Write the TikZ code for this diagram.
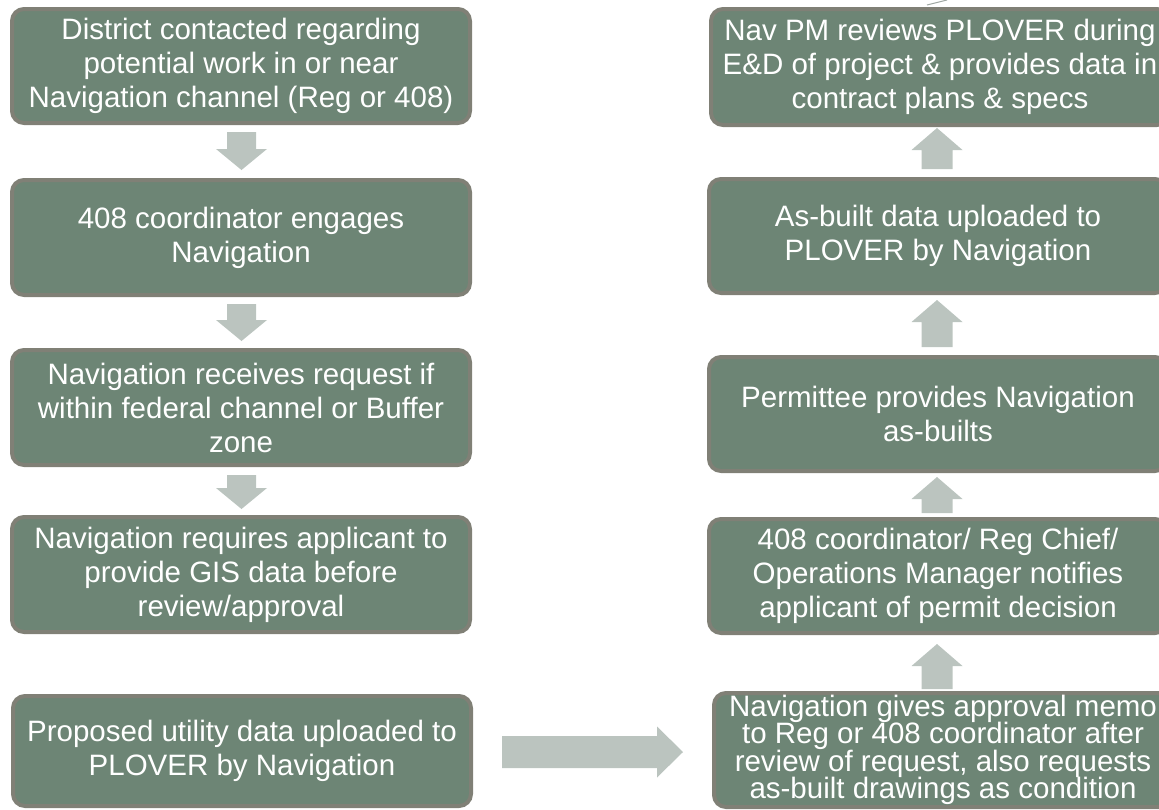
\documentclass[tikz,border=0pt]{standalone}
\usepackage{fontspec}
\setmainfont{Liberation Sans}
\usetikzlibrary{calc}
\definecolor{boxfill}{RGB}{109,133,117}
\definecolor{boxline}{RGB}{128,128,118}
\definecolor{arrowfill}{RGB}{187,196,191}
\definecolor{strayline}{RGB}{160,168,164}
\tikzset{
  flowbox/.style={draw=boxline, line width=4pt, fill=boxfill, rounded corners=12pt,
    minimum width=458pt, align=center, text=white, inner sep=0pt,
    font=\fontsize{29.5pt}{34pt}\selectfont},
  tightbox/.style={flowbox, font=\fontsize{29.5pt}{27.5pt}\selectfont},
  blockarrow/.style={fill=arrowfill}
}
\newcommand{\downblock}[2]{\fill[blockarrow] let \p1=(#1), \p2=(#2) in
  (\x1-14.5pt,\y1) -- (\x1+14.5pt,\y1) -- (\x1+14.5pt,\y2+21pt) -- (\x1+25.5pt,\y2+21pt)
  -- (\x1,\y2) -- (\x1-25.5pt,\y2+21pt) -- (\x1-14.5pt,\y2+21pt) -- cycle;}
\newcommand{\upblock}[2]{\fill[blockarrow] let \p1=(#1), \p2=(#2) in
  (\x1-15.5pt,\y1) -- (\x1+15.5pt,\y1) -- (\x1+15.5pt,\y2-22pt) -- (\x1+25.5pt,\y2-22pt)
  -- (\x1,\y2) -- (\x1-25.5pt,\y2-22pt) -- (\x1-15.5pt,\y2-22pt) -- cycle;}
\newcommand{\rightblock}[2]{\fill[blockarrow] let \p1=(#1), \p2=(#2) in
  (\x1,\y1+16pt) -- (\x2-26pt,\y1+16pt) -- (\x2-26pt,\y1+25.5pt) -- (\x2,\y1)
  -- (\x2-26pt,\y1-25.5pt) -- (\x2-26pt,\y1-16pt) -- (\x1,\y1-16pt) -- cycle;}
\begin{document}
\begin{tikzpicture}[x=1pt,y=-1pt]
\useasboundingbox (0,0) rectangle (1159,809);
\clip (0,0) rectangle (1159,809);
% left column
\node[flowbox, minimum height=114pt] (l1) at (241,66) {District contacted regarding\\potential work in or near\\Navigation channel (Reg or 408)};
\node[flowbox, minimum height=115pt] (l2) at (241,237.5) {408 coordinator engages\\Navigation};
\node[flowbox, minimum height=115pt] (l3) at (241,407.5) {Navigation receives request if\\within federal channel or Buffer\\zone};
\node[flowbox, minimum height=115pt] (l4) at (241,574.5) {Navigation requires applicant to\\provide GIS data before\\review/approval};
\node[flowbox, minimum height=110pt] (l5) at (242,751) {Proposed utility data uploaded to\\PLOVER by Navigation};
% right column
\node[flowbox, minimum height=116pt] (r1) at (940,67) {Nav PM reviews PLOVER during\\E\&D of project \& provides data in\\contract plans \& specs};
\node[flowbox, minimum height=114pt] (r2) at (938,236) {As-built data uploaded to\\PLOVER by Navigation};
\node[flowbox, minimum height=114pt] (r3) at (938,414) {Permittee provides Navigation\\as-builts};
\node[flowbox, minimum height=114pt] (r4) at (938,576) {408 coordinator/ Reg Chief/\\Operations Manager notifies\\applicant of permit decision};
\node[tightbox, minimum height=114pt] (r5) at (943,750) {Navigation gives approval memo\\to Reg or 408 coordinator after\\review of request, also requests\\as-built drawings as condition};
% left arrows
\downblock{$(l1.south)+(0.5,7)$}{$(l2.north)+(0.5,-8)$}
\downblock{$(l2.south)+(0.5,7)$}{$(l3.north)+(0.5,-7)$}
\downblock{$(l3.south)+(0.5,8)$}{$(l4.north)+(0.5,-6)$}
% right arrows
\upblock{$(r2.north)+(-1,-8)$}{$(r1.south)+(-3,1)$}
\upblock{$(r3.north)+(-1,-8)$}{$(r2.south)+(-1,5)$}
\upblock{$(r4.north)+(-1,-4)$}{$(r3.south)+(-1,4)$}
\upblock{$(r5.north)+(-6,-2)$}{$(r4.south)+(-1,9)$}
% horizontal arrow
\rightblock{$(l5.east)+(29,1)$}{$(r5.west)+(-29,2)$}
% stray line
\coordinate (s1) at (927,5);
\coordinate (s2) at (947,0);
\draw[strayline, line width=1pt] (s1) -- (s2);
\end{tikzpicture}
\end{document}
